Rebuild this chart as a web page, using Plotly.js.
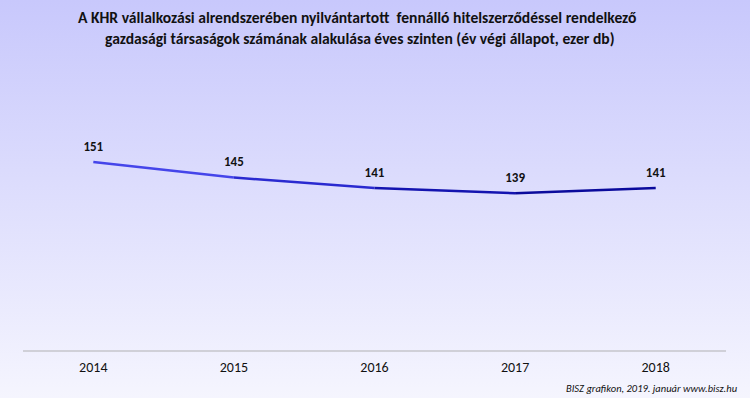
<!DOCTYPE html>
<html>
<head>
<meta charset="utf-8">
<script src="https://cdn.plot.ly/plotly-3.0.1.min.js"></script>
<style>
html,body{margin:0;padding:0;}
#chart{width:750px;height:398px;background:linear-gradient(to bottom,#c8c8fc 0%,#dcdcfd 45%,#f5f5fe 100%);}
</style>
</head>
<body>
<div id="chart"></div>
<script>
const years = ['2014','2015','2016','2017','2018'];
const values = [151, 145, 141, 139, 141];
const labels = ['151','145','141','139','141'];
const segColors = ['#4545ea','#2a2ad0','#1414b0','#0a0a9c'];
const titleLine1 = 'A KHR vállalkozási alrendszerében nyilvántartott \u00a0fennálló hitelszerződéssel rendelkező';
const titleLine2 = 'gazdasági társaságok számának alakulása éves szinten (év végi állapot, ezer db)';
const footer = 'BISZ grafikon, 2019. január www.bisz.hu';

const FONT = 'Carlito, "DejaVu Sans Condensed", Lato, sans-serif';
const traces = [];
for (let i = 0; i < years.length - 1; i++) {
  traces.push({
    type: 'scatter', mode: 'lines',
    x: years.slice(i, i + 2), y: values.slice(i, i + 2),
    line: {color: segColors[i], width: 2.5},
    hoverinfo: 'skip', showlegend: false
  });
}
traces.push({
  type: 'scatter', mode: 'markers+text',
  x: years, y: values, text: labels,
  marker: {size: 11, opacity: 0},
  textposition: 'top center',
  textfont: {family: FONT, size: 13, color: '#111111', weight: 'bold'},
  showlegend: false, hoverinfo: 'skip'
});

const layout = {
  width: 750, height: 398,
  paper_bgcolor: 'rgba(0,0,0,0)', plot_bgcolor: 'rgba(0,0,0,0)',
  margin: {l: 23, r: 24, t: 60, b: 48},
  xaxis: {
    type: 'category', range: [-0.5, 4.5],
    showgrid: false, zeroline: false,
    showline: true, linecolor: '#d0d0d8', linewidth: 2,
    ticks: '', tickfont: {family: FONT, size: 14, color: '#111111'},
    ticklabelstandoff: 3
  },
  yaxis: {
    range: [78.7, 190.2], visible: false, showgrid: false, zeroline: false
  },
  annotations: [
    {text: '<b>' + titleLine1 + '</b>', xref: 'paper', yref: 'paper',
     x: (357 - 23) / 703, y: (350 - 18) / 290, xanchor: 'center', yanchor: 'middle',
     showarrow: false, font: {family: FONT, size: 15.6, color: '#111111'}},
    {text: '<b>' + titleLine2 + '</b>', xref: 'paper', yref: 'paper',
     x: (360 - 23) / 703, y: (350 - 38) / 290, xanchor: 'center', yanchor: 'middle',
     showarrow: false, font: {family: FONT, size: 15.6, color: '#111111'}},
    {text: '<i>' + footer + '</i>', xref: 'paper', yref: 'paper',
     x: (740 - 23) / 703, y: (350 - 388) / 290,
     xanchor: 'right', yanchor: 'middle', showarrow: false,
     font: {family: FONT, size: 10.5, color: '#111111'}}
  ]
};

Plotly.newPlot('chart', traces, layout, {displayModeBar: false, staticPlot: true});
</script>
</body>
</html>
